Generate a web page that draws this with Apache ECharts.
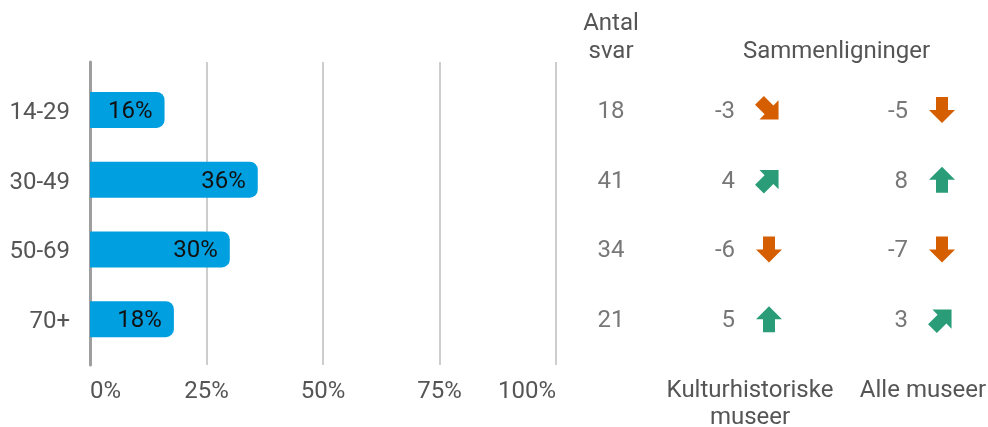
<!DOCTYPE html>
<html>
<head>
<meta charset="utf-8">
<script src="https://cdn.jsdelivr.net/npm/echarts@6/dist/echarts.min.js"></script>
<style>
  html, body { margin: 0; padding: 0; background: #fff; }
  #chart { width: 988px; height: 427px; }
</style>
</head>
<body>
<div id="chart"></div>
<script>
// data
const ageGroups = ["14-29", "30-49", "50-69", "70+"];
const shares = [16, 36, 30, 18];
const counts = [18, 41, 34, 21];
const compGroups = ["Kulturhistoriske\nmuseer", "Alle museer"];
const diffKultur = [-3, 4, -6, 5];
const diffAlle = [-5, 8, -7, 3];
const arrowKultur = ["downRight", "upRight", "down", "up"];
const arrowAlle = ["down", "up", "down", "upRight"];

const textColor = "#555";
const font = "Roboto";
const fs = 24;
const orange = "#d55e00";
const green = "#2a9d78";

// down pointing block arrow, rotated per direction
const arrowPath = "path://M7,0 L19,0 L19,13 L26,13 L13,26 L0,13 L7,13 Z";
const arrowStyle = {
  down: { rot: 0, size: 26, color: orange },
  downRight: { rot: 45, size: 27, color: orange },
  upRight: { rot: 135, size: 27, color: green },
  up: { rot: 180, size: 26, color: green },
};

function diffSeries(col, diffs) {
  return {
    type: "scatter",
    xAxisIndex: 3,
    yAxisIndex: 3,
    symbolSize: 0,
    silent: true,
    label: {
      show: true,
      position: "inside",
      offset: [-15, 2],
      align: "right",
      color: textColor,
      fontSize: fs,
      fontFamily: font,
      formatter: (p) => String(diffs[p.dataIndex]),
    },
    data: diffs.map((v, i) => [col, i]),
  };
}

function arrowSeries(col, dirs) {
  return {
    type: "scatter",
    xAxisIndex: 3,
    yAxisIndex: 3,
    silent: true,
    symbol: arrowPath,
    symbolOffset: [19, 0],
    data: dirs.map((d, i) => ({
      value: [col, i],
      symbolRotate: arrowStyle[d].rot,
      symbolSize: arrowStyle[d].size,
      itemStyle: { color: arrowStyle[d].color, opacity: 1 },
    })),
  };
}

const chart = echarts.init(document.getElementById("chart"));

const hiddenCat = (data, gi) => ({
  type: "category",
  gridIndex: gi,
  data: data,
  inverse: true,
  axisLine: { show: false },
  axisTick: { show: false },
  axisLabel: { show: false },
  splitLine: { show: false },
});

chart.setOption({
  animation: false,
  textStyle: { fontFamily: font },
  grid: [
    { left: 90, width: 466, top: 75, height: 279, outerBoundsMode: "none" },
    { left: 90, width: 466, top: 62, height: 303, outerBoundsMode: "none" },
    { left: 581, width: 60, top: 75, height: 279, outerBoundsMode: "none" },
    { left: 750, width: 173, top: 75, height: 279, outerBoundsMode: "none" },
  ],
  xAxis: [
    {
      type: "value", gridIndex: 0, min: 0, max: 100, interval: 25,
      axisLine: { show: false }, axisTick: { show: false },
      axisLabel: { show: false }, splitLine: { show: false },
    },
    {
      type: "value", gridIndex: 1, min: 0, max: 100, interval: 25,
      axisLine: { show: false }, axisTick: { show: false },
      splitLine: { show: true, lineStyle: { color: "#bdbdbd", width: 1.5 } },
      axisLabel: {
        color: textColor, fontSize: fs, fontFamily: font, margin: 15,
        formatter: "{value}%",
        alignMinLabel: "left", alignMaxLabel: "right",
      },
    },
    {
      type: "category", gridIndex: 2, position: "top", data: ["Antal\nsvar"],
      axisLine: { show: false }, axisTick: { show: false },
      axisLabel: { color: textColor, fontSize: fs, fontFamily: font, margin: 9, lineHeight: 28 },
    },
    {
      type: "category", gridIndex: 3, position: "bottom", data: compGroups,
      boundaryGap: false,
      axisLine: { show: false }, axisTick: { show: false },
      splitLine: { show: false },
      axisLabel: {
        color: textColor, fontSize: fs, fontFamily: font, margin: 23, lineHeight: 27,
        interval: 0, showMinLabel: true, showMaxLabel: true, hideOverlap: false,
      },
    },
    {
      type: "category", gridIndex: 3, position: "top", data: compGroups,
      boundaryGap: false,
      axisLine: { show: false }, axisTick: { show: false },
      axisLabel: { show: false }, splitLine: { show: false },
      name: "Sammenligninger", nameLocation: "middle", nameGap: 11,
      nameTextStyle: { color: textColor, fontSize: fs, fontFamily: font },
    },
  ],
  yAxis: [
    {
      type: "category", gridIndex: 0, data: ageGroups, inverse: true,
      axisLine: { show: false }, axisTick: { show: false },
      axisLabel: {
        color: textColor, fontSize: fs, fontFamily: font, margin: 20,
        verticalAlign: "top", lineHeight: 6,
      },
    },
    {
      type: "value", gridIndex: 1,
      axisLine: { show: true, lineStyle: { color: "#9e9e9e", width: 3 } },
      axisTick: { show: false }, axisLabel: { show: false }, splitLine: { show: false },
    },
    hiddenCat(ageGroups, 2),
    hiddenCat(ageGroups, 3),
  ],
  series: [
    {
      type: "bar",
      xAxisIndex: 0,
      yAxisIndex: 0,
      barWidth: 36,
      data: shares,
      itemStyle: { color: "#009fe0", borderRadius: [0, 8, 8, 0] },
      label: {
        show: true,
        position: "insideRight",
        distance: 12,
        offset: [0, 2],
        color: "#111",
        fontSize: fs,
        fontFamily: font,
        formatter: "{c}%",
      },
    },
    {
      type: "scatter",
      xAxisIndex: 2,
      yAxisIndex: 2,
      symbolSize: 0,
      silent: true,
      label: {
        show: true,
        position: "inside",
        offset: [0, 2],
        color: textColor,
        fontSize: fs,
        fontFamily: font,
        formatter: (p) => String(counts[p.dataIndex]),
      },
      data: counts.map((v, i) => [0, i]),
    },
    diffSeries(0, diffKultur),
    arrowSeries(0, arrowKultur),
    diffSeries(1, diffAlle),
    arrowSeries(1, arrowAlle),
  ],
});
</script>
</body>
</html>
